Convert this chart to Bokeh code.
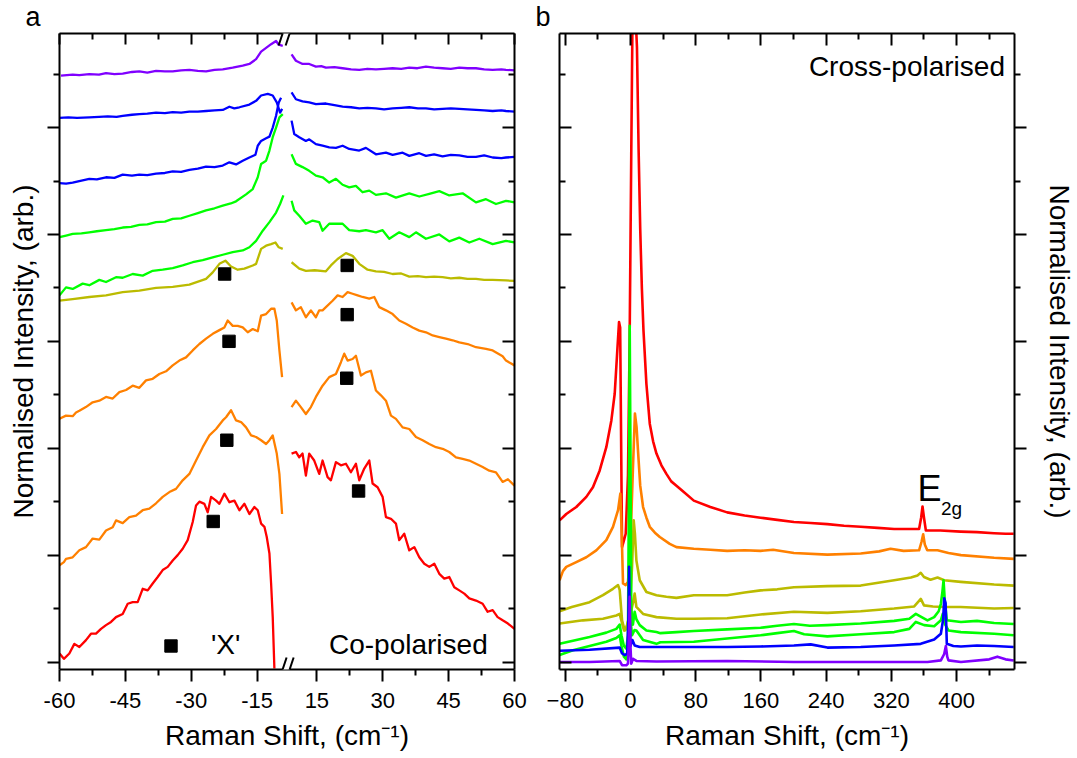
import numpy as np
from bokeh.plotting import figure
from bokeh.layouts import row, column
from bokeh.models import (Range1d, LinearAxis, FixedTicker, CustomJSTickFormatter,
                          Label, Arrow, Legend, LegendItem)
from bokeh.embed import file_html
from bokeh.resources import INLINE

# ------------------------------------------------------------------ data
X_TICKS_A = [-60, -45, -30, -15, 15, 30, 45, 60]
X_MINOR_A = [-52.5, -37.5, -22.5, 22.5, 37.5, 52.5]
X_TICKS_B = [-80, 0, 80, 160, 240, 320, 400]
X_MINOR_B = [-40, 40, 120, 200, 280, 360, 440]
Y_TICKS = [0, 2, 4, 6, 8, 10]
Y_MINOR = [1, 3, 5, 7, 9, 11]

COLORS = {"purple": "#8000FF", "blue": "#0000FF", "green": "#00FF00",
          "olive": "#BBBB00", "orange": "#FF8000", "red": "#FF0000"}

# ---- panel a (co-polarised), Raman shift in cm-1, offset intensity
A_PURPLE_X = [-59.66, -57.0, -55.5, -53.21, -51.0, -49.4, -47.5, -45.61, -43.5, -41.82, -40.0, -38.02, -36.0,
              -34.22, -32.3, -30.43, -28.5, -26.63, -24.7, -22.83, -20.56, -18.28, -16.76, -15.24, -14.1,
              -12.96, -11.82, -10.69, -10.08, -9.17,
              9.24, 10.23, 11.74, 13.26, 14.78, 16.0, 17.06, 19.0, 20.86, 22.8, 24.65, 26.5, 28.45, 30.3,
              32.25, 34.2, 36.04, 37.9, 39.84, 41.7, 43.63, 45.5, 47.43, 49.3, 51.23, 53.1, 55.03, 57.0,
              58.06, 60.0]
A_PURPLE_Y = [10.97, 10.99, 10.98, 11.0, 10.99, 11.02, 11.0, 11.01, 11.04, 11.05, 11.03, 11.06, 11.05,
              11.05, 11.07, 11.08, 11.06, 11.05, 11.08, 11.09, 11.12, 11.16, 11.19, 11.28, 11.42,
              11.49, 11.56, 11.62, 11.55, 11.53,
              11.37, 11.25, 11.19, 11.19, 11.14, 11.15, 11.12, 11.13, 11.11, 11.09, 11.08, 11.1, 11.09, 11.1,
              11.11, 11.1, 11.12, 11.11, 11.14, 11.12, 11.11, 11.1, 11.12, 11.11, 11.11, 11.09, 11.08, 11.09,
              11.08, 11.07]

A_BLUE1_X = [-60.0, -58.0, -56.0, -53.21, -51.0, -49.0, -47.0, -45.61, -43.5, -41.82, -40.0, -38.02, -36.0,
             -34.22, -32.3, -30.43, -28.5, -26.63, -24.7, -22.83, -21.32, -20.2, -19.04, -16.76, -15.24,
             -14.1, -12.58, -11.45, -10.53, -9.78, -9.3,
             9.24, 10.23, 11.74, 13.26, 14.78, 17.06, 19.0, 20.86, 22.8, 24.65, 26.5, 28.45, 30.3, 32.25,
             34.2, 36.04, 38.0, 39.84, 41.7, 43.63, 45.5, 47.43, 49.3, 51.23, 53.1, 55.03, 57.0, 58.06, 60.0]
A_BLUE1_Y = [10.18, 10.19, 10.18, 10.19, 10.2, 10.21, 10.2, 10.22, 10.24, 10.25, 10.26, 10.28, 10.27,
             10.29, 10.28, 10.3, 10.3, 10.31, 10.32, 10.33, 10.39, 10.36, 10.38, 10.43, 10.5,
             10.6, 10.63, 10.6, 10.47, 10.28, 10.35,
             10.66, 10.53, 10.49, 10.47, 10.44, 10.45, 10.42, 10.39, 10.38, 10.36, 10.37, 10.36, 10.34, 10.36,
             10.37, 10.38, 10.36, 10.36, 10.34, 10.35, 10.36, 10.35, 10.34, 10.33, 10.32, 10.31, 10.32, 10.31,
             10.3]

A_BLUE2_X = [-60.0, -58.5, -57.0, -55.5, -53.21, -51.5, -49.41, -47.5, -45.61, -43.5, -41.82, -40.0, -38.02,
             -36.0, -34.22, -32.3, -30.43, -28.5, -26.63, -24.7, -22.83, -21.32, -19.8, -18.28, -16.76,
             -15.39, -14.86, -14.1, -12.96, -12.2, -11.45, -10.69, -10.08, -9.55,
             9.24, 9.85, 10.99, 12.5, 13.26, 14.78, 16.3, 17.82, 19.34, 20.86, 22.37, 24.65, 26.17, 28.45,
             30.73, 32.25, 34.52, 36.04, 38.32, 39.84, 41.7, 43.63, 45.5, 47.43, 49.3, 51.23, 53.1, 55.03,
             57.0, 58.06, 60.0]
A_BLUE2_Y = [8.96, 8.95, 8.97, 9.0, 9.04, 9.03, 9.07, 9.06, 9.12, 9.1, 9.12, 9.11, 9.14,
             9.15, 9.18, 9.17, 9.21, 9.23, 9.27, 9.26, 9.29, 9.35, 9.31, 9.38, 9.44,
             9.49, 9.66, 9.75, 9.8, 9.83, 10.0, 10.22, 10.47, 10.56,
             10.13, 9.88, 9.82, 9.75, 9.78, 9.69, 9.66, 9.63, 9.62, 9.66, 9.6, 9.57, 9.62, 9.5,
             9.53, 9.49, 9.53, 9.47, 9.52, 9.47, 9.5, 9.46, 9.49, 9.48, 9.45, 9.45, 9.48, 9.44,
             9.43, 9.44, 9.45]

A_GREEN1_X = [-60.0, -58.5, -57.0, -55.0, -53.21, -51.5, -49.41, -47.5, -45.61, -43.7, -41.82, -40.0, -38.02,
              -36.0, -34.22, -32.3, -30.43, -28.5, -26.63, -24.7, -22.83, -21.0, -19.8, -17.52, -16.0,
              -14.86, -14.1, -12.96, -12.2, -11.45, -10.69, -9.93, -9.17,
              9.24, 10.23, 11.74, 13.26, 14.78, 16.3, 17.82, 19.34, 20.86, 22.37, 23.89, 25.41, 26.93, 28.45,
              30.73, 33.0, 36.04, 38.32, 40.6, 42.88, 45.15, 48.19, 51.23, 53.51, 55.78, 58.06, 60.0]
A_GREEN1_Y = [7.95, 7.98, 8.01, 8.02, 8.04, 8.06, 8.08, 8.1, 8.13, 8.14, 8.18, 8.19, 8.23,
              8.24, 8.29, 8.3, 8.35, 8.4, 8.45, 8.49, 8.54, 8.58, 8.62, 8.75, 8.85,
              9.07, 9.32, 9.38, 9.57, 9.82, 10.0, 10.19, 10.25,
              9.5, 9.32, 9.26, 9.19, 9.1, 9.07, 8.97, 9.04, 8.93, 8.88, 8.91, 8.79, 8.82, 8.74,
              8.77, 8.69, 8.77, 8.71, 8.76, 8.81, 8.73, 8.77, 8.6, 8.66, 8.57, 8.63, 8.6]

A_GREEN2_X = [-60.0, -58.52, -57.0, -54.73, -53.21, -50.93, -49.41, -47.13, -45.61, -43.34, -41.06, -38.78,
              -36.5, -34.22, -31.95, -29.67, -27.39, -25.11, -22.83, -20.56, -18.28, -16.76, -15.24, -13.72,
              -12.2, -10.69, -9.78, -9.02,
              9.24, 9.85, 10.99, 12.5, 14.02, 15.54, 16.3, 17.82, 20.86, 22.37, 24.65, 26.17, 28.45, 29.97,
              31.49, 33.76, 36.04, 37.56, 39.84, 42.88, 45.15, 47.43, 49.71, 51.99, 55.03, 58.06, 60.0]
A_GREEN2_Y = [6.86, 7.01, 6.98, 7.08, 7.05, 7.15, 7.11, 7.2, 7.19, 7.26, 7.23, 7.32,
              7.34, 7.37, 7.42, 7.48, 7.52, 7.57, 7.62, 7.67, 7.7, 7.76, 7.88, 8.07,
              8.23, 8.41, 8.57, 8.73,
              8.63, 8.45, 8.35, 8.2, 8.26, 8.23, 8.07, 8.2, 8.2, 8.08, 8.06, 8.08, 8.04, 8.08,
              7.92, 8.04, 7.95, 8.04, 7.92, 8.0, 7.87, 7.94, 7.85, 7.92, 7.82, 7.88, 7.85]

A_OLIVE_X = [-60.0, -57.0, -53.21, -49.41, -45.61, -41.82, -38.02, -34.22, -30.43, -26.63, -25.11, -23.59,
             -22.23, -20.94, -19.42, -17.9, -16.0, -15.24, -14.1, -12.96, -11.82, -10.84, -10.08, -9.17,
             9.24, 10.99, 12.5, 14.5, 17.06, 18.2, 19.72, 21.62, 23.13, 24.65, 26.55, 28.45, 30.3, 32.25,
             34.2, 36.04, 38.0, 39.84, 41.7, 43.63, 45.5, 47.43, 49.3, 51.23, 53.1, 55.03, 58.06, 60.0]
A_OLIVE_Y = [6.76, 6.79, 6.83, 6.86, 6.92, 6.95, 7.0, 7.02, 7.06, 7.17, 7.29, 7.45,
             7.51, 7.4, 7.34, 7.36, 7.42, 7.45, 7.73, 7.79, 7.82, 7.85, 7.76, 7.73,
             7.48, 7.36, 7.32, 7.33, 7.31, 7.42, 7.54, 7.65, 7.6, 7.45, 7.34, 7.31, 7.3, 7.26,
             7.27, 7.21, 7.22, 7.2, 7.21, 7.2, 7.18, 7.19, 7.17, 7.17, 7.15, 7.15, 7.14, 7.13]

A_ORANGE1_X = [-60.0, -58.52, -57.0, -56.24, -55.48, -54.0, -52.45, -50.93, -49.41, -47.89, -46.37, -44.85,
               -43.34, -41.82, -40.3, -38.78, -37.26, -35.74, -34.22, -32.71, -31.19, -29.67, -28.15, -26.63,
               -25.11, -23.59, -22.46, -21.7, -20.56, -19.42, -18.28, -17.14, -16.0, -14.86, -14.1, -12.96,
               -11.82, -11.07, -10.53, -9.93, -9.32,
               9.24, 10.23, 11.36, 12.5, 13.64, 14.78, 15.54, 16.3, 17.06, 18.58, 19.72, 20.86, 22.0, 23.13,
               24.27, 25.41, 26.93, 28.07, 29.21, 30.73, 32.25, 33.76, 35.28, 36.8, 38.32, 39.84, 41.36,
               42.88, 44.39, 45.91, 47.43, 49.33, 51.23, 53.51, 55.03, 57.3, 58.06, 60.0]
A_ORANGE1_Y = [4.55, 4.61, 4.6, 4.67, 4.7, 4.77, 4.86, 4.89, 4.96, 4.93, 5.05, 5.09,
               5.17, 5.13, 5.27, 5.3, 5.39, 5.44, 5.55, 5.64, 5.7, 5.83, 5.95, 6.05,
               6.14, 6.21, 6.26, 6.39, 6.29, 6.29, 6.26, 6.17, 6.23, 6.19, 6.48, 6.51,
               6.61, 6.61, 6.39, 5.83, 5.33,
               6.73, 6.58, 6.64, 6.45, 6.58, 6.45, 6.58, 6.58, 6.64, 6.76, 6.86, 6.83, 6.92, 6.89,
               6.86, 6.83, 6.8, 6.83, 6.64, 6.58, 6.51, 6.39, 6.33, 6.26, 6.2, 6.17, 6.11,
               6.08, 6.05, 6.02, 5.98, 5.95, 5.89, 5.86, 5.83, 5.72, 5.64, 5.55]

A_ORANGE2_X = [-60.0, -59.0, -58.52, -57.0, -55.48, -53.97, -52.45, -50.93, -49.41, -47.89, -47.13, -45.61,
               -44.1, -42.58, -41.06, -39.54, -38.02, -36.5, -34.98, -33.47, -31.95, -30.43, -28.91, -27.39,
               -25.87, -24.35, -22.83, -22.08, -20.94, -19.8, -18.66, -17.52, -16.38, -15.24, -14.1, -12.96,
               -12.2, -11.45, -10.53, -9.93, -9.32,
               9.24, 10.23, 11.36, 12.5, 13.64, 14.78, 16.3, 17.82, 19.34, 20.48, 21.24, 22.0, 23.13, 23.89,
               25.03, 26.17, 27.31, 28.45, 29.59, 30.73, 31.87, 33.0, 34.52, 36.04, 37.56, 39.08, 40.6,
               42.12, 43.63, 45.15, 46.67, 48.19, 49.71, 51.23, 52.75, 54.27, 55.78, 57.3, 58.5, 60.0]
A_ORANGE2_Y = [1.81, 1.87, 1.93, 1.96, 2.09, 2.15, 2.31, 2.29, 2.46, 2.52, 2.65, 2.6,
               2.71, 2.74, 2.84, 2.87, 2.97, 3.09, 3.18, 3.24, 3.4, 3.52, 3.77, 4.02,
               4.24, 4.36, 4.52, 4.58, 4.71, 4.52, 4.49, 4.39, 4.24, 4.21, 4.15, 4.08,
               4.15, 4.24, 3.9, 3.52, 2.77,
               4.77, 4.89, 4.77, 4.64, 4.77, 4.96, 5.17, 5.33, 5.39, 5.61, 5.77, 5.64, 5.67, 5.73,
               5.36, 5.42, 5.45, 5.08, 4.99, 4.89, 4.61, 4.55, 4.39, 4.36, 4.21, 4.15, 4.08,
               4.02, 3.99, 3.93, 3.83, 3.8, 3.77, 3.71, 3.65, 3.58, 3.55, 3.37, 3.42, 3.3]

A_RED_X = [-60.0, -59.0, -57.76, -56.62, -55.48, -53.97, -52.83, -51.69, -50.55, -49.41, -48.27, -47.13,
           -45.61, -44.47, -43.34, -42.2, -41.06, -39.92, -38.78, -37.64, -36.5, -35.36, -34.22, -33.09,
           -31.95, -30.81, -29.67, -28.91, -28.15, -27.01, -26.25, -25.49, -24.35, -23.59, -22.46, -21.32,
           -20.18, -19.04, -17.9, -16.76, -15.62, -14.86, -14.1, -13.34, -12.81, -12.2, -11.82, -11.45,
           -11.07,
           9.24, 10.23, 10.99, 11.74, 12.5, 13.26, 14.4, 15.54, 16.3, 17.44, 18.2, 19.34, 20.48, 21.62,
           22.75, 23.89, 24.65, 25.79, 26.93, 27.69, 28.83, 29.97, 30.73, 31.87, 33.0, 33.76, 34.9, 36.04,
           37.18, 38.32, 39.46, 40.6, 41.74, 42.88, 44.01, 45.15, 46.29, 47.43, 48.57, 49.71, 51.23, 52.75,
           53.89, 55.03, 56.16, 57.3, 58.5, 60.0]
A_RED_Y = [0.16, 0.06, 0.16, 0.34, 0.28, 0.41, 0.53, 0.53, 0.62, 0.69, 0.75, 0.84,
           0.9, 1.09, 1.12, 1.12, 1.37, 1.34, 1.47, 1.59, 1.72, 1.78, 1.9, 2.0,
           2.12, 2.28, 2.62, 2.93, 3.0, 2.96, 2.8, 3.09, 3.02, 2.96, 3.15, 2.99,
           3.02, 2.84, 2.96, 2.77, 2.9, 2.84, 2.59, 2.53, 2.34, 2.03, 1.47, 0.84,
           -0.12,
           3.9, 3.93, 3.83, 3.9, 3.49, 3.9, 3.77, 3.52, 3.77, 3.46, 3.4, 3.74, 3.68, 3.71,
           3.55, 3.71, 3.4, 3.62, 3.77, 3.34, 3.27, 3.09, 2.71, 2.68, 2.59, 2.28, 2.4, 2.09,
           2.15, 1.96, 1.84, 1.78, 1.84, 1.65, 1.56, 1.59, 1.4, 1.34, 1.28, 1.19, 1.15, 1.09,
           0.94, 0.97, 0.84, 0.78, 0.72, 0.62]

# black squares marking the 'X' feature
X_MARK_X = [-22.4, 21.9, -21.4, 21.9, -21.9, 21.8, -25.0, 24.5]
X_MARK_Y = [7.26, 7.42, 6.0, 6.5, 4.15, 5.31, 2.63, 3.2]

# ---- panel b (cross-polarised)
B_RED_X = [-86.9, -78.7, -66.4, -54.1, -46.0, -37.8, -29.6, -23.4, -19.3, -16.1, -14.0, -12.6, -10.3, -7.9,
           -5.8, -3.0, -1.0, 1.0, 2.5, 4.0, 6.0, 8.0, 10.0, 12.0, 14.0, 16.0, 19.6, 23.7, 27.8, 31.9, 38.0,
           44.1, 50.0, 56.4, 64.0, 77.7, 98.0, 118.6, 140.0, 159.6, 180.0, 200.5, 221.0, 241.5, 262.0,
           282.4, 303.0, 323.4, 340.0, 354.0, 356.5, 358.2, 360.0, 362.3, 380.0, 405.0, 425.0, 446.0,
           460.0, 470.0]
B_RED_Y = [2.65, 2.77, 2.9, 3.09, 3.27, 3.58, 4.02, 4.52, 5.02, 5.83, 6.36, 6.26, 2.15, 2.28,
           2.4, 3.5, 6.0, 9.5, 12.0, 13.0, 12.2, 11.5, 9.6, 8.1, 7.0, 6.2, 5.2, 4.46, 4.13, 3.9, 3.68,
           3.52, 3.38, 3.3, 3.2, 3.02, 2.9, 2.8, 2.74, 2.7, 2.66, 2.62, 2.6, 2.58, 2.55,
           2.53, 2.51, 2.49, 2.49, 2.49, 2.7, 2.91, 2.7, 2.46, 2.46, 2.44, 2.43, 2.41,
           2.4, 2.4]

B_ORANGE_X = [-86.9, -82.8, -78.7, -66.4, -54.1, -41.9, -29.6, -21.4, -15.2, -12.4, -10.7, -9.1, -5.8, -3.0,
              0.0, 3.0, 5.5, 7.5, 9.5, 12.0, 15.5, 19.6, 23.7, 30.0, 36.0, 48.2, 56.4, 77.7, 98.0, 118.6,
              140.0, 159.6, 175.0, 200.5, 241.5, 282.4, 305.0, 319.0, 335.0, 354.0, 357.0, 359.0, 361.0,
              364.0, 376.6, 390.0, 405.3, 446.0, 470.0]
B_ORANGE_Y = [1.53, 1.7, 1.78, 1.87, 1.96, 2.09, 2.28, 2.53, 2.84, 3.15, 2.4, 1.47, 1.44, 1.5,
              2.2, 3.6, 4.65, 4.4, 3.9, 3.3, 2.9, 2.7, 2.53, 2.42, 2.34, 2.21, 2.15, 2.12, 2.1, 2.08,
              2.09, 2.08, 2.1, 2.04, 2.01, 2.03, 2.07, 2.12, 2.08, 2.09, 2.25, 2.39, 2.2,
              2.09, 2.09, 2.04, 2.0, 1.95, 1.93]

B_OLIVE1_X = [-86.9, -72.0, -50.1, -33.7, -21.4, -15.2, -13.2, -10.3, -7.0, -5.0, -1.0, 2.0, 4.0, 5.5, 7.3,
              11.4, 19.6, 31.9, 44.1, 56.4, 77.7, 118.6, 140.0, 159.6, 180.0, 200.5, 241.5, 282.4, 323.4,
              344.0, 352.0, 356.0, 360.0, 368.0, 376.6, 384.8, 405.0, 446.0, 470.0]
B_OLIVE1_Y = [0.95, 1.03, 1.12, 1.25, 1.37, 1.44, 1.35, 0.78, 0.59, 0.62, 0.9, 1.8, 2.65, 2.4, 1.9,
              1.53, 1.31, 1.25, 1.22, 1.2, 1.25, 1.25, 1.3, 1.34, 1.36, 1.4, 1.42, 1.43, 1.53,
              1.58, 1.62, 1.67, 1.59, 1.54, 1.58, 1.53, 1.5, 1.45, 1.43]

B_OLIVE2_X = [-86.9, -58.2, -33.7, -17.3, -13.2, -10.7, -7.9, -5.0, 0.0, 3.0, 5.2, 7.3, 15.5, 31.9, 56.4,
              77.7, 118.6, 159.6, 200.5, 241.5, 282.4, 323.4, 348.0, 356.1, 360.0, 371.0, 384.8, 405.0,
              446.0, 470.0]
B_OLIVE2_Y = [0.72, 0.78, 0.81, 0.87, 0.9, 0.75, 0.59, 0.65, 0.9, 1.1, 1.28, 1.03, 0.9, 0.84, 0.81,
              0.81, 0.82, 0.89, 0.94, 0.92, 0.95, 1.0, 1.04, 1.18, 1.06, 1.04, 1.03, 1.03,
              1.0, 1.01]

B_GREEN1_X = [-86.9, -70.5, -50.1, -29.6, -17.3, -13.2, -11.0, -8.0, -5.0, -3.0, -1.5, -0.9, 0.0, 1.0, 3.0,
              5.2, 7.3, 11.4, 19.6, 31.9, 36.7, 56.4, 77.7, 118.6, 159.6, 180.0, 200.5, 220.0, 241.5,
              282.4, 323.4, 342.0, 350.0, 356.0, 364.3, 372.5, 378.0, 380.7, 382.5, 384.0, 385.5, 388.0,
              405.3, 425.0, 446.0, 470.0]
B_GREEN1_Y = [0.34, 0.4, 0.47, 0.55, 0.62, 0.7, 0.5, 0.3, 0.25, 0.5, 4.0, 6.29, 4.0, 1.0, 0.7,
              0.94, 0.8, 0.69, 0.59, 0.56, 0.54, 0.56, 0.58, 0.61, 0.64, 0.68, 0.71, 0.68, 0.69,
              0.72, 0.77, 0.81, 0.9, 0.85, 0.78, 0.84, 0.95, 1.09, 1.3, 1.53, 1.15, 0.78,
              0.75, 0.77, 0.73, 0.71]

B_GREEN2_X = [-86.9, -70.5, -50.1, -29.6, -17.3, -13.2, -11.0, -8.0, -5.0, -2.0, 0.0, 2.0, 5.0, 7.3, 15.5,
              31.9, 36.7, 77.7, 118.6, 159.6, 180.0, 200.5, 213.0, 241.5, 282.4, 323.4, 342.0, 350.0,
              360.2, 372.5, 380.7, 383.0, 386.0, 390.0, 405.3, 446.0, 470.0]
B_GREEN2_Y = [0.13, 0.22, 0.3, 0.38, 0.45, 0.5, 0.3, 0.1, 0.05, 0.3, 0.8, 0.5, 0.6, 0.59, 0.41,
              0.34, 0.37, 0.38, 0.44, 0.5, 0.54, 0.58, 0.52, 0.48, 0.52, 0.56, 0.62, 0.75,
              0.69, 0.67, 0.78, 0.9, 0.7, 0.59, 0.56, 0.53, 0.5]

B_BLUE_X = [-86.9, -50.1, -13.2, -10.3, -7.0, -4.0, -2.5, -1.7, -0.9, 0.0, 2.4, 5.2, 11.4, 36.7, 118.6,
            159.6, 200.5, 221.0, 241.5, 282.4, 323.4, 356.0, 372.5, 380.7, 383.5, 384.8, 386.5, 388.0,
            396.0, 405.3, 425.0, 446.0, 470.0]
B_BLUE_Y = [0.21, 0.23, 0.27, 0.16, 0.13, 0.16, 0.8, 1.78, 0.8, 0.3, 0.41, 0.31, 0.28, 0.28, 0.28,
            0.29, 0.31, 0.33, 0.27, 0.28, 0.31, 0.34, 0.42, 0.53, 0.8, 1.19, 1.1, 0.34,
            0.3, 0.29, 0.31, 0.3, 0.28]

B_PURPLE_X = [-86.9, -50.1, -13.2, -10.3, -5.0, -3.0, -1.8, -0.9, 0.0, 1.0, 3.2, 7.3, 31.9, 118.6, 200.5,
              282.4, 364.3, 380.7, 384.8, 386.8, 388.5, 390.0, 405.3, 440.0, 450.0, 460.0, 470.0]
B_PURPLE_Y = [0.0, 0.0, 0.02, -0.06, -0.06, -0.03, 0.5, 1.22, 0.3, -0.03, 0.06, 0.02, 0.01, 0.02, 0.0,
              0.0, 0.0, 0.03, 0.15, 0.3, 0.1, 0.03, 0.0, 0.05, 0.1, 0.05, 0.03]

# ------------------------------------------------------------------ styling helpers
FONT = "Liberation Sans"
BRK = 8.2                      # half-width of the axis break (cm-1) in panel a
YMIN, YMAX = -0.14, 11.76
BLANK = "return ''"
HEAD_H = 32                    # height of the strip holding the panel letters


def brk(xs):
    """map Raman shift onto the broken axis of panel a"""
    xs = np.asarray(xs, dtype=float)
    return np.where(xs < 0, xs + BRK, xs - BRK)


def halves(x, y):
    x = np.asarray(x, float)
    y = np.asarray(y, float)
    i = int(np.argmax(x > 0))
    return (np.concatenate([x[:i], [np.nan], x[i:]]),
            np.concatenate([y[:i], [np.nan], y[i:]]))


def style_axis(ax, mj_in, mj_out, mn_in, mn_out, labels=True):
    ax.axis_line_width = 2
    ax.axis_line_color = "black"
    ax.major_tick_line_width = 2
    ax.minor_tick_line_width = 2
    ax.major_tick_in = mj_in
    ax.major_tick_out = mj_out
    ax.minor_tick_in = mn_in
    ax.minor_tick_out = mn_out
    ax.major_label_text_font = FONT
    ax.major_label_text_font_size = "22px"
    ax.major_label_text_color = "black"
    ax.axis_label_text_font = FONT
    ax.axis_label_text_font_size = "28px"
    ax.axis_label_text_font_style = "normal"
    ax.axis_label_text_color = "black"
    if not labels:
        ax.formatter = CustomJSTickFormatter(code=BLANK)
        ax.major_label_standoff = 0


def note(x, y, text, size, align="left"):
    return Label(x=x, y=y, text=text, text_align=align, text_baseline="middle",
                 text_font=FONT, text_font_size=size, text_color="black")


# ------------------------------------------------------------------ header strip (panel letters)
head = figure(width=1077, height=HEAD_H, output_backend="svg", toolbar_location=None, title=None,
              x_range=Range1d(0, 1077), y_range=Range1d(0, HEAD_H),
              min_border=0, x_axis_location=None, y_axis_location=None)
head.outline_line_color = None
head.grid.visible = False
head.add_layout(note(25, 16, "a", "27px"))
head.add_layout(note(535, 16, "b", "27px"))

# ------------------------------------------------------------------ panel a
H = 758 - HEAD_H
pa = figure(width=530, height=H, output_backend="svg", toolbar_location=None,
            x_range=Range1d(-60 + BRK, 60 - BRK), y_range=Range1d(YMIN, YMAX),
            min_border_left=59, min_border_right=16, min_border_top=33 - HEAD_H, min_border_bottom=89)
pa.outline_line_color = None
pa.grid.visible = False

xa = pa.xaxis[0]
xa.ticker = FixedTicker(ticks=list(brk(X_TICKS_A)), minor_ticks=list(brk(X_MINOR_A)))
xa.formatter = CustomJSTickFormatter(args=dict(b=BRK),
                                     code="return (tick < 0 ? tick - b : tick + b).toFixed(0)")
xa.axis_label = "Raman Shift, (cm\u207b\u00b9)"
style_axis(xa, 0, 12, 0, 6)
xa.major_label_standoff = 11
xa.axis_label_standoff = 9

ya = pa.yaxis[0]
ya.ticker = FixedTicker(ticks=Y_TICKS, minor_ticks=Y_MINOR)
ya.axis_label = "Normalised Intensity, (arb.)"
style_axis(ya, 0, 12, 0, 6, labels=False)
ya.axis_label_standoff = 9

top_a = LinearAxis(ticker=FixedTicker(ticks=list(brk(X_TICKS_A)), minor_ticks=list(brk(X_MINOR_A))))
style_axis(top_a, 11, 0, 6, 0, labels=False)
pa.add_layout(top_a, "above")
right_a = LinearAxis(ticker=FixedTicker(ticks=Y_TICKS, minor_ticks=Y_MINOR))
style_axis(right_a, 12, 0, 6, 0, labels=False)
pa.add_layout(right_a, "right")

curves_a = [(A_RED_X, A_RED_Y, "red"), (A_ORANGE2_X, A_ORANGE2_Y, "orange"),
            (A_ORANGE1_X, A_ORANGE1_Y, "orange"), (A_OLIVE_X, A_OLIVE_Y, "olive"),
            (A_GREEN2_X, A_GREEN2_Y, "green"), (A_GREEN1_X, A_GREEN1_Y, "green"),
            (A_BLUE2_X, A_BLUE2_Y, "blue"), (A_BLUE1_X, A_BLUE1_Y, "blue"),
            (A_PURPLE_X, A_PURPLE_Y, "purple")]
for cx, cy, cname in curves_a:
    hx, hy = halves(cx, cy)
    pa.line(brk(hx), hy, line_color=COLORS[cname], line_width=2.3, line_join="round")

sq = pa.scatter(brk(X_MARK_X), X_MARK_Y, marker="square", size=12.4,
                fill_color="black", line_color="black")

leg = Legend(items=[LegendItem(label="'X'", renderers=[sq])], location=(96, 8),
             glyph_width=31, glyph_height=31, label_standoff=25,
             label_text_font=FONT, label_text_font_size="28px", label_text_color="black",
             background_fill_alpha=0, border_line_alpha=0, padding=0, margin=0, spacing=0)
pa.add_layout(leg)

pa.add_layout(note(float(brk(53.9)), 0.33, "Co-polarised", "28px", align="right"))

# axis-break marks "//" on the top and bottom axes
dx, dy = 0.91, 0.2245
for y0 in (YMIN, YMAX):
    pa.add_layout(Arrow(start=None, end=None, x_start=-1.0, y_start=y0, x_end=0.6, y_end=y0,
                        line_color="white", line_width=6))
    for cxm in (-1.0, 0.6):
        pa.add_layout(Arrow(start=None, end=None, x_start=cxm - dx, y_start=y0 - dy,
                            x_end=cxm + dx, y_end=y0 + dy, line_color="black", line_width=2))

# ------------------------------------------------------------------ panel b
pb = figure(width=547, height=H, output_backend="svg", toolbar_location=None,
            x_range=Range1d(-87.0, 471.0), y_range=Range1d(YMIN, YMAX),
            min_border_left=29, min_border_right=63, min_border_top=33 - HEAD_H, min_border_bottom=89)
pb.outline_line_color = None
pb.grid.visible = False

xb = pb.xaxis[0]
xb.ticker = FixedTicker(ticks=X_TICKS_B, minor_ticks=X_MINOR_B)
xb.axis_label = "Raman Shift, (cm\u207b\u00b9)"
style_axis(xb, 0, 12, 0, 6)
xb.major_label_standoff = 11
xb.axis_label_standoff = 9

yb = pb.yaxis[0]
yb.ticker = FixedTicker(ticks=Y_TICKS, minor_ticks=Y_MINOR)
style_axis(yb, 12, 0, 6, 0, labels=False)

top_b = LinearAxis(ticker=FixedTicker(ticks=X_TICKS_B, minor_ticks=X_MINOR_B))
style_axis(top_b, 12, 0, 6, 0, labels=False)
pb.add_layout(top_b, "above")
right_b = LinearAxis(ticker=FixedTicker(ticks=Y_TICKS, minor_ticks=Y_MINOR),
                     axis_label="Normalised Intensity, (arb.)")
style_axis(right_b, 0, 12, 0, 6, labels=False)
right_b.axis_label_standoff = 17
pb.add_layout(right_b, "right")

curves_b = [(B_RED_X, B_RED_Y, "red"), (B_ORANGE_X, B_ORANGE_Y, "orange"),
            (B_OLIVE1_X, B_OLIVE1_Y, "olive"), (B_OLIVE2_X, B_OLIVE2_Y, "olive"),
            (B_GREEN1_X, B_GREEN1_Y, "green"), (B_GREEN2_X, B_GREEN2_Y, "green"),
            (B_BLUE_X, B_BLUE_Y, "blue"), (B_PURPLE_X, B_PURPLE_Y, "purple")]
for cx, cy, cname in curves_b:
    pb.line(cx, cy, line_color=COLORS[cname], line_width=2.6, line_join="round")

pb.add_layout(note(459.3, 11.14, "Cross-polarised", "28px", align="right"))
pb.add_layout(note(352.1, 3.245, "E", "36px"))
pb.add_layout(note(380.8, 2.88, "2g", "19px"))

layout = column(head, row(pa, pb))
open("out.html", "w").write(file_html(layout, INLINE))
